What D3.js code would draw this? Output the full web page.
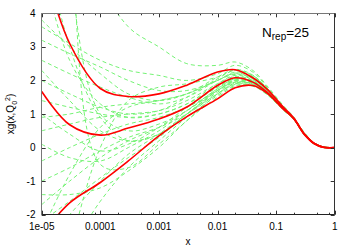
<!DOCTYPE html>
<html><head><meta charset="utf-8">
<script src="https://cdn.jsdelivr.net/npm/d3@7"></script>
<style>body{margin:0;background:#fff}svg{display:block}text{font-family:"Liberation Sans",Arial,sans-serif;fill:#000}</style>
</head><body><svg id="c" width="354" height="248"></svg>
<script>
const xs = [1e-5, 3e-5, 1e-4, 3e-4, 1e-3, 3e-3, 1e-2, 2e-2, 4e-2, 0.07, 0.13, 0.2, 0.3, 0.45, 0.65, 1];
const central = [1.67, 0.68, 0.37, 0.58, 0.85, 1.21, 1.85, 2.08, 1.95, 1.65, 1.17, 0.87, 0.41, 0.12, 0.01, 0];
const upper = [5.6, 3.1, 1.76, 1.52, 1.6, 1.86, 2.25, 2.32, 2.08, 1.74, 1.22, 0.88, 0.42, 0.12, 0.01, 0];
const lower = [-2.6, -1.65, -1.04, -0.4, 0.35, 0.92, 1.45, 1.78, 1.85, 1.62, 1.16, 0.86, 0.4, 0.11, 0.0, 0];
const replicas = [
  [5.5, 2.6, 1.3, 0.9, 1.0, 1.3, 1.9, 2.15, 2.02, 1.68, 1.18, 0.86, 0.41, 0.12, 0.01, 0],
  [6.5, 3.0, 0.9, 0.2, 0.4, 1.0, 1.7, 1.95, 1.9, 1.62, 1.15, 0.85, 0.4, 0.11, 0.01, 0],
  [3.2, 2.8, 2.4, 2.0, 1.7, 1.7, 2.0, 2.25, 2.12, 1.74, 1.22, 0.88, 0.43, 0.13, 0.02, 0],
  [2.6, 2.2, 1.8, 1.5, 1.3, 1.5, 2.0, 2.2, 2.05, 1.7, 1.19, 0.87, 0.42, 0.12, 0.01, 0],
  [1.4, 1.2, 1.0, 0.9, 1.0, 1.3, 1.8, 2.05, 1.98, 1.66, 1.17, 0.86, 0.41, 0.12, 0.01, 0],
  [0.5, 0.7, 0.9, 1.0, 1.1, 1.4, 1.9, 2.12, 2.0, 1.67, 1.17, 0.86, 0.41, 0.12, 0.01, 0],
  [-0.4, 0.0, 0.4, 0.7, 0.9, 1.2, 1.7, 1.98, 1.93, 1.63, 1.16, 0.85, 0.4, 0.11, 0.01, 0],
  [-1.0, -0.6, -0.1, 0.3, 0.6, 1.0, 1.6, 1.9, 1.88, 1.6, 1.15, 0.85, 0.4, 0.11, 0.0, 0],
  [-1.7, -1.0, -0.3, 0.2, 0.6, 1.1, 1.7, 2.0, 1.95, 1.64, 1.16, 0.85, 0.4, 0.11, 0.01, 0],
  [-3.0, -2.0, -1.0, -0.2, 0.4, 1.0, 1.6, 1.88, 1.86, 1.6, 1.14, 0.84, 0.39, 0.1, 0.0, 0],
  [-4.0, -3.0, -1.6, -0.6, 0.2, 0.9, 1.55, 1.85, 1.84, 1.58, 1.13, 0.84, 0.39, 0.1, 0.0, 0],
  [14, 5.2, 1.0, 0.5, 0.7, 1.1, 1.75, 2.02, 1.95, 1.65, 1.16, 0.86, 0.41, 0.12, 0.01, 0],
  [20, 6.8, -0.5, -0.6, 0.1, 0.8, 1.6, 1.92, 1.9, 1.62, 1.15, 0.85, 0.4, 0.11, 0.0, 0],
  [-2.5, -0.8, 0.6, 1.2, 1.4, 1.6, 2.0, 2.22, 2.08, 1.72, 1.2, 0.87, 0.42, 0.12, 0.01, 0],
  [-6, -3, 0, 1.4, 1.8, 1.9, 2.1, 2.3, 2.12, 1.75, 1.22, 0.88, 0.43, 0.13, 0.02, 0],
  [2.0, 1.6, 1.2, 1.0, 1.1, 1.5, 2.05, 2.3, 2.15, 1.76, 1.22, 0.88, 0.43, 0.13, 0.02, 0],
  [1.0, 0.4, -0.1, 0.1, 0.6, 1.2, 1.8, 2.08, 1.98, 1.66, 1.17, 0.86, 0.41, 0.12, 0.01, 0],
  [0.1, -0.3, -0.4, 0.0, 0.5, 1.1, 1.75, 2.05, 1.97, 1.65, 1.16, 0.85, 0.4, 0.11, 0.01, 0],
  [3.8, 3.0, 2.2, 1.6, 1.4, 1.6, 2.1, 2.33, 2.16, 1.77, 1.23, 0.89, 0.44, 0.13, 0.02, 0],
  [-1.4, -1.4, -1.2, -0.7, 0.0, 0.8, 1.5, 1.82, 1.83, 1.58, 1.13, 0.84, 0.39, 0.1, 0.0, 0],
  [0.9, 1.0, 1.2, 1.3, 1.4, 1.6, 2.0, 2.18, 2.05, 1.7, 1.19, 0.87, 0.42, 0.12, 0.01, 0],
  [3.6, 3.1, 2.6, 2.3, 2.15, 2.0, 2.2, 2.45, 2.25, 1.8, 1.25, 0.9, 0.45, 0.14, 0.02, 0],
  [-2.2, -1.6, -0.9, -0.3, 0.3, 1.0, 1.65, 1.95, 1.92, 1.63, 1.16, 0.85, 0.4, 0.11, 0.01, 0],
  [2.3, 1.4, 0.5, 0.2, 0.4, 1.0, 1.7, 2.0, 1.95, 1.64, 1.16, 0.85, 0.4, 0.11, 0.01, 0],
  [12, 9, 5.0, 3.6, 3.0, 2.5, 2.45, 2.55, 2.3, 1.84, 1.27, 0.91, 0.46, 0.14, 0.02, 0]
];
const xTickValues = [1e-5, 1e-4, 1e-3, 1e-2, 1e-1, 1];
const xTickLabels = ["1e-05", "0.0001", "0.001", "0.01", "0.1", "1"];
const yTickValues = [-2, -1, 0, 1, 2, 3, 4];
const minorMultipliers = [2, 5, 8];

const L = 41.7, R = 334.7, T = 13.3, B = 214.7;
const svg = d3.select("#c");
const x = d3.scaleLog().domain([1e-5, 1]).range([L, R]);
const y = d3.scaleLinear().domain([-2, 4]).range([B, T]);

svg.append("defs").append("clipPath").attr("id", "clip")
  .append("rect").attr("x", L).attr("y", T).attr("width", R - L).attr("height", B - T);

const line = d3.line().x(d => x(d[0])).y(d => y(d[1])).curve(d3.curveCatmullRom.alpha(0.5));
const pts = vals => xs.map((v, i) => [v, vals[i]]);

const g = svg.append("g").attr("clip-path", "url(#clip)");
g.selectAll("path.rep").data(replicas).join("path").attr("class", "rep")
  .attr("d", r => line(pts(r))).attr("fill", "none")
  .attr("stroke", "#74f274").attr("stroke-width", 1).attr("stroke-dasharray", "4,3");
g.selectAll("path.red").data([upper, central, lower]).join("path").attr("class", "red")
  .attr("d", r => line(pts(r))).attr("fill", "none")
  .attr("stroke", "#ff0000").attr("stroke-width", 1.6);

// ticks
const minor = [];
for (let e = -5; e < 0; e++) minorMultipliers.forEach(m => minor.push(m * Math.pow(10, e)));
const tk = svg.append("g").attr("stroke", "#333").attr("stroke-width", 1);
xTickValues.forEach(v => {
  const px = Math.round(x(v)) + 0.5;
  tk.append("line").attr("x1", px).attr("x2", px).attr("y1", B).attr("y2", B - 4);
  tk.append("line").attr("x1", px).attr("x2", px).attr("y1", T).attr("y2", T + 4);
});
minor.forEach(v => {
  const px = Math.round(x(v)) + 0.5;
  tk.append("line").attr("x1", px).attr("x2", px).attr("y1", B).attr("y2", B - 2);
  tk.append("line").attr("x1", px).attr("x2", px).attr("y1", T).attr("y2", T + 2);
});
yTickValues.forEach(v => {
  const py = Math.round(y(v)) + 0.5;
  tk.append("line").attr("x1", L).attr("x2", L + 4).attr("y1", py).attr("y2", py);
  tk.append("line").attr("x1", R).attr("x2", R - 4).attr("y1", py).attr("y2", py);
});

// frame
const fr = svg.append("g").attr("stroke-width", 1);
fr.append("line").attr("x1", 41.5).attr("x2", 41.5).attr("y1", T).attr("y2", B).attr("stroke", "#777");
fr.append("line").attr("x1", L).attr("x2", R).attr("y1", 13.5).attr("y2", 13.5).attr("stroke", "#777");
fr.append("line").attr("x1", L).attr("x2", R).attr("y1", 214.5).attr("y2", 214.5).attr("stroke", "#222");
fr.append("line").attr("x1", 334.5).attr("x2", 334.5).attr("y1", T).attr("y2", B).attr("stroke", "#333");

// labels
svg.append("g").selectAll("text").data(xTickValues).join("text")
  .attr("x", d => x(d)).attr("y", 230).attr("text-anchor", "middle")
  .attr("font-size", 10).text((d, i) => xTickLabels[i]);
svg.append("g").selectAll("text").data(yTickValues).join("text")
  .attr("x", 35.5).attr("y", d => y(d) + 3.6).attr("text-anchor", "end")
  .attr("font-size", 10).text(d => d);
svg.append("text").attr("x", 188).attr("y", 245).attr("text-anchor", "middle")
  .attr("font-size", 10).text("x");
const yl = svg.append("text").attr("transform", `translate(14,${(T + B) / 2}) rotate(-90)`)
  .attr("text-anchor", "middle").attr("font-size", 10);
yl.append("tspan").text("xg(x,Q");
yl.append("tspan").attr("font-size", 7).attr("dy", 2.5).text("0");
yl.append("tspan").attr("font-size", 7).attr("dy", -7).text("2");
yl.append("tspan").attr("dy", 4.5).text(")");

const nt = svg.append("text").attr("x", 262).attr("y", 37).attr("font-size", 13.5);
nt.append("tspan").text("N");
nt.append("tspan").attr("font-size", 10).attr("dy", 3).text("rep");
nt.append("tspan").attr("dy", -3).text("=25");
</script></body></html>
